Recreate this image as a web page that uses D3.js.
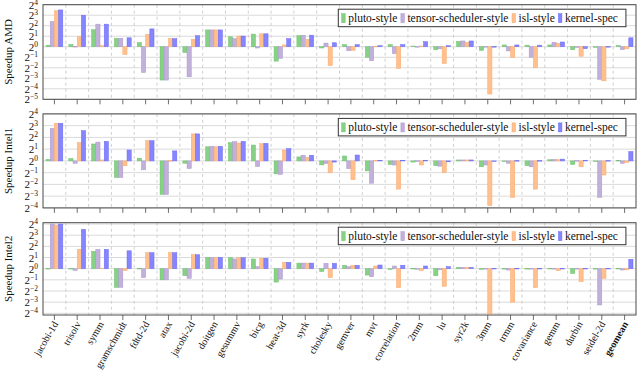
<!DOCTYPE html>
<html>
<head>
<meta charset="utf-8">
<script src="https://cdn.jsdelivr.net/npm/d3@7"></script>
<style>
  body { margin: 0; background: #fff; }
  text { font-family: "Liberation Serif", "DejaVu Serif", serif; fill: #111; }
</style>
</head>
<body>
<div id="chart"></div>
<script>
"use strict";

// Benchmarks on the x axis (last one is the geomean)
var categories = [
  'jacobi-1d', 'trisolv', 'symm', 'gramschmidt', 'fdtd-2d', 'atax', 'jacobi-2d',
  'doitgen', 'gesummv', 'bicg', 'heat-3d', 'syrk', 'cholesky', 'gemver', 'mvt',
  'correlation', '2mm', 'lu', 'syr2k', '3mm', 'trmm', 'covariance', 'gemm',
  'durbin', 'seidel-2d', 'geomean'
];

var seriesNames = ['pluto-style', 'tensor-scheduler-style', 'isl-style', 'kernel-spec'];
var seriesColors = ['#86d186', '#c0b0da', '#ffc08e', '#8585ff'];
var seriesStrokes = ['#6cc26c', '#ab98cc', '#f7aa6e', '#6a6af5'];

// log2 of the speedup
var amdPluto  = [0.15, 0.2, 1.62, 0.8, 0.4, -3.17, -0.55, 1.6, 0.95, 1.2, -1.37, 1.05, -0.12, 0.2, -1.0, 0.2, 0.07, -0.28, 0.5, -0.35, 0.17, 0.15, 0.17, -0.28, -0.03, 0.1];
var amdTensor = [2.4, 0.03, 2.15, 0.8, -2.45, -3.17, -2.86, 1.6, 0.77, -0.12, -1.1, 1.08, 0.35, -0.38, -1.33, -0.65, 0.02, -0.2, 0.55, 0.02, -0.4, -1.0, 0.42, -0.05, -3.1, -0.28];
var amdIsl    = [3.43, 0.95, 0.1, -0.75, 1.17, 0.77, 0.7, 1.6, 1.02, 1.23, 0.17, 0.7, -1.8, -0.35, 0.05, -2.06, 0.07, -1.6, 0.42, -4.5, -1.0, -2.0, 0.33, -0.9, -3.25, -0.2];
var amdKernel = [3.5, 3.0, 2.15, 0.85, 1.7, 0.77, 1.05, 1.6, 1.02, 1.23, 0.77, 1.1, 0.38, 0.2, 0.1, 0.2, 0.48, 0.1, 0.55, 0.02, 0.17, 0.15, 0.45, -0.18, 0.02, 0.85];

var intel1Pluto  = [0.12, 0.2, 1.44, -1.41, 0.23, -2.85, -0.2, 1.2, 1.55, 1.35, -1.1, 0.34, -0.34, 0.42, -0.85, -0.3, -0.1, -0.4, 0.08, -0.5, -0.05, -0.4, 0.1, -0.3, -0.03, 0.05];
var intel1Tensor = [2.77, -0.2, 1.6, -1.41, -0.76, -2.85, -0.65, 1.24, 1.63, -0.48, -1.15, 0.48, -0.22, -0.65, -1.9, -0.35, 0.02, -0.45, 0.08, -0.35, -0.2, -0.5, 0.12, 0.03, -3.1, -0.2];
var intel1Isl    = [3.2, 1.55, 0.08, -0.42, 1.72, 0.03, 2.3, 1.2, 1.52, 1.46, 0.93, 0.31, -1.0, -1.6, 0.05, -2.4, -0.35, -1.0, 0.08, -3.8, -3.1, -2.4, 0.1, -0.5, -1.2, -0.12];
var intel1Kernel = [3.2, 2.57, 1.66, 0.93, 1.72, 0.85, 2.3, 1.24, 1.66, 1.49, 1.04, 0.48, -0.1, 0.5, 0.05, 0.05, 0.05, -0.08, 0.08, -0.05, 0.03, 0.03, 0.15, 0.05, 0.03, 0.8];

var intel2Pluto  = [0.02, 0.02, 1.55, -1.67, 0.03, -1.0, -0.63, 1.0, 0.98, 0.87, -1.2, 0.5, -0.25, 0.3, -0.57, -0.05, 0.03, -0.63, 0.12, -0.02, 0.02, 0.02, 0.03, -0.42, 0.02, 0.03];
var intel2Tensor = [4.0, -0.15, 1.73, -1.67, -0.8, -1.0, -0.87, 1.0, 0.87, 0.18, -0.93, 0.5, 0.48, 0.18, -0.72, 0.24, -0.05, -0.1, 0.12, 0.02, -0.12, 0.02, 0.02, 0.02, -3.25, -0.12];
var intel2Isl    = [3.9, 1.73, 0.05, -0.18, 1.43, 1.43, 1.25, 1.0, 0.98, 0.93, 0.57, 0.5, -0.8, 0.3, 0.24, -1.7, -0.18, -1.58, 0.12, -4.05, -3.0, -1.7, -0.18, -1.17, -0.87, -0.1];
var intel2Kernel = [4.0, 3.52, 1.73, 1.6, 1.43, 1.43, 1.25, 1.0, 0.98, 0.93, 0.57, 0.5, 0.48, 0.3, 0.33, 0.3, 0.24, 0.18, 0.12, 0.03, 0.03, 0.03, 0.03, 0.03, 0.03, 0.84];

// y tick exponents per panel
var amdTicks = [-5, -4, -3, -2, -1, 0, 1, 2, 3, 4];
var intel1Ticks = [-4, -3, -2, -1, 0, 1, 2, 3, 4];
var intel2Ticks = [-4, -3, -2, -1, 0, 1, 2, 3, 4];

var panels = [
  { title: 'Speedup AMD', top: 4.7, bottom: 99.3, domain: [-5, 4], ticks: amdTicks,
    series: [amdPluto, amdTensor, amdIsl, amdKernel] },
  { title: 'Speedup Intel1', top: 113.9, bottom: 207.9, domain: [-4, 4], ticks: intel1Ticks,
    series: [intel1Pluto, intel1Tensor, intel1Isl, intel1Kernel] },
  { title: 'Speedup Intel2', top: 222.7, bottom: 315, domain: [-4.15, 4.12], ticks: intel2Ticks,
    series: [intel2Pluto, intel2Tensor, intel2Isl, intel2Kernel] }
];

var width = 640;
var height = 374;
var left = 43;
var right = 636;
var groupWidth = 16.8;

var svg = d3.select('#chart')
  .append('svg')
    .attr('width', width)
    .attr('height', height);

var x = d3.scaleBand()
  .domain(categories)
  .range([left, right])
  .padding(0);

var xInner = d3.scaleBand()
  .domain(seriesNames)
  .range([0, groupWidth])
  .padding(0);

var groupOffset = (x.bandwidth() - groupWidth) / 2;

var drawPanel = function (panel) {
  var y = d3.scaleLinear()
    .domain(panel.domain)
    .range([panel.bottom, panel.top]);

  var g = svg.append('g');

  // horizontal grid
  g.selectAll('line.hgrid')
    .data(panel.ticks.filter(function (t) { return t >= panel.domain[0] && t <= panel.domain[1]; }))
    .enter()
    .append('line')
      .attr('class', 'hgrid')
      .attr('x1', left)
      .attr('x2', right)
      .attr('y1', function (t) { return y(t); })
      .attr('y2', function (t) { return y(t); })
      .attr('stroke', '#dadada')
      .attr('stroke-width', 1);

  // vertical dashed grid between benchmarks
  g.selectAll('line.vgrid')
    .data(categories.slice(1))
    .enter()
    .append('line')
      .attr('class', 'vgrid')
      .attr('x1', function (c) { return x(c); })
      .attr('x2', function (c) { return x(c); })
      .attr('y1', panel.top)
      .attr('y2', panel.bottom)
      .attr('stroke', '#c4c4c4')
      .attr('stroke-width', 0.8)
      .attr('stroke-dasharray', '3,3');

  // bars
  panel.series.forEach(function (values, s) {
    g.selectAll('rect.s' + s)
      .data(values)
      .enter()
      .append('rect')
        .attr('class', 's' + s)
        .attr('x', function (v, i) { return x(categories[i]) + groupOffset + xInner(seriesNames[s]); })
        .attr('width', xInner.bandwidth())
        .attr('y', function (v) { return y(Math.max(v, 0)); })
        .attr('height', function (v) { return Math.max(0.6, Math.abs(y(v) - y(0))); })
        .attr('fill', seriesColors[s])
        .attr('stroke', seriesStrokes[s])
        .attr('stroke-width', 0.5);
  });

  // frame
  g.append('rect')
    .attr('x', left)
    .attr('y', panel.top)
    .attr('width', right - left)
    .attr('height', panel.bottom - panel.top)
    .attr('fill', 'none')
    .attr('stroke', '#4a4a4a')
    .attr('stroke-width', 1);

  // x ticks pointing down
  g.selectAll('line.xtick')
    .data(categories)
    .enter()
    .append('line')
      .attr('class', 'xtick')
      .attr('x1', function (c) { return x(c) + x.bandwidth() / 2; })
      .attr('x2', function (c) { return x(c) + x.bandwidth() / 2; })
      .attr('y1', panel.bottom)
      .attr('y2', panel.bottom + 5)
      .attr('stroke', '#4a4a4a')
      .attr('stroke-width', 0.8);

  // y tick labels 2^k
  var labels = g.selectAll('text.ytick')
    .data(panel.ticks)
    .enter()
    .append('text')
      .attr('class', 'ytick')
      .attr('x', 38)
      .attr('y', function (t) { return y(t) + 4; })
      .attr('text-anchor', 'end')
      .style('font-size', '11px');
  labels.append('tspan').text('2');
  labels.append('tspan')
    .attr('dy', -4)
    .style('font-size', '7.5px')
    .text(function (t) { return t < 0 ? '\u2212' + (-t) : String(t); });

  // y title
  g.append('text')
    .attr('transform', 'translate(12,' + ((panel.top + panel.bottom) / 2) + ') rotate(-90)')
    .attr('text-anchor', 'middle')
    .style('font-size', '11px')
    .text(panel.title);

  // legend
  var legendTop = panel.top + 4.5;
  var legend = g.append('g');
  var box = legend.append('rect')
    .attr('x', 338.3)
    .attr('y', legendTop)
    .attr('height', 17.5)
    .attr('fill', '#fff')
    .attr('stroke', '#333')
    .attr('stroke-width', 1);
  var cursor = 341.7;
  seriesNames.forEach(function (name, s) {
    legend.append('rect')
      .attr('x', cursor)
      .attr('y', legendTop + 4.5)
      .attr('width', 3.5)
      .attr('height', 9)
      .attr('fill', seriesColors[s])
      .attr('stroke', seriesStrokes[s])
      .attr('stroke-width', 0.5);
    var label = legend.append('text')
      .attr('x', cursor + 6.5)
      .attr('y', legendTop + 13)
      .style('font-size', '11.5px')
      .text(name);
    cursor += 6.5 + label.node().getComputedTextLength() + 3.5;
  });
  box.attr('width', cursor + 4.5 - 338.3);
};

panels.forEach(drawPanel);

// rotated benchmark names under the last panel
var lastBottom = panels[panels.length - 1].bottom;
svg.selectAll('text.xlabel')
  .data(categories)
  .enter()
  .append('text')
    .attr('class', 'xlabel')
    .attr('transform', function (c) {
      return 'translate(' + (x(c) + x.bandwidth() / 2 + 4) + ',' + (lastBottom + 9) + ') rotate(-60)';
    })
    .attr('text-anchor', 'end')
    .style('font-size', '10px')
    .style('font-weight', function (c) { return c === 'geomean' ? 'bold' : 'normal'; })
    .text(function (c) { return c; });
</script>
</body>
</html>
